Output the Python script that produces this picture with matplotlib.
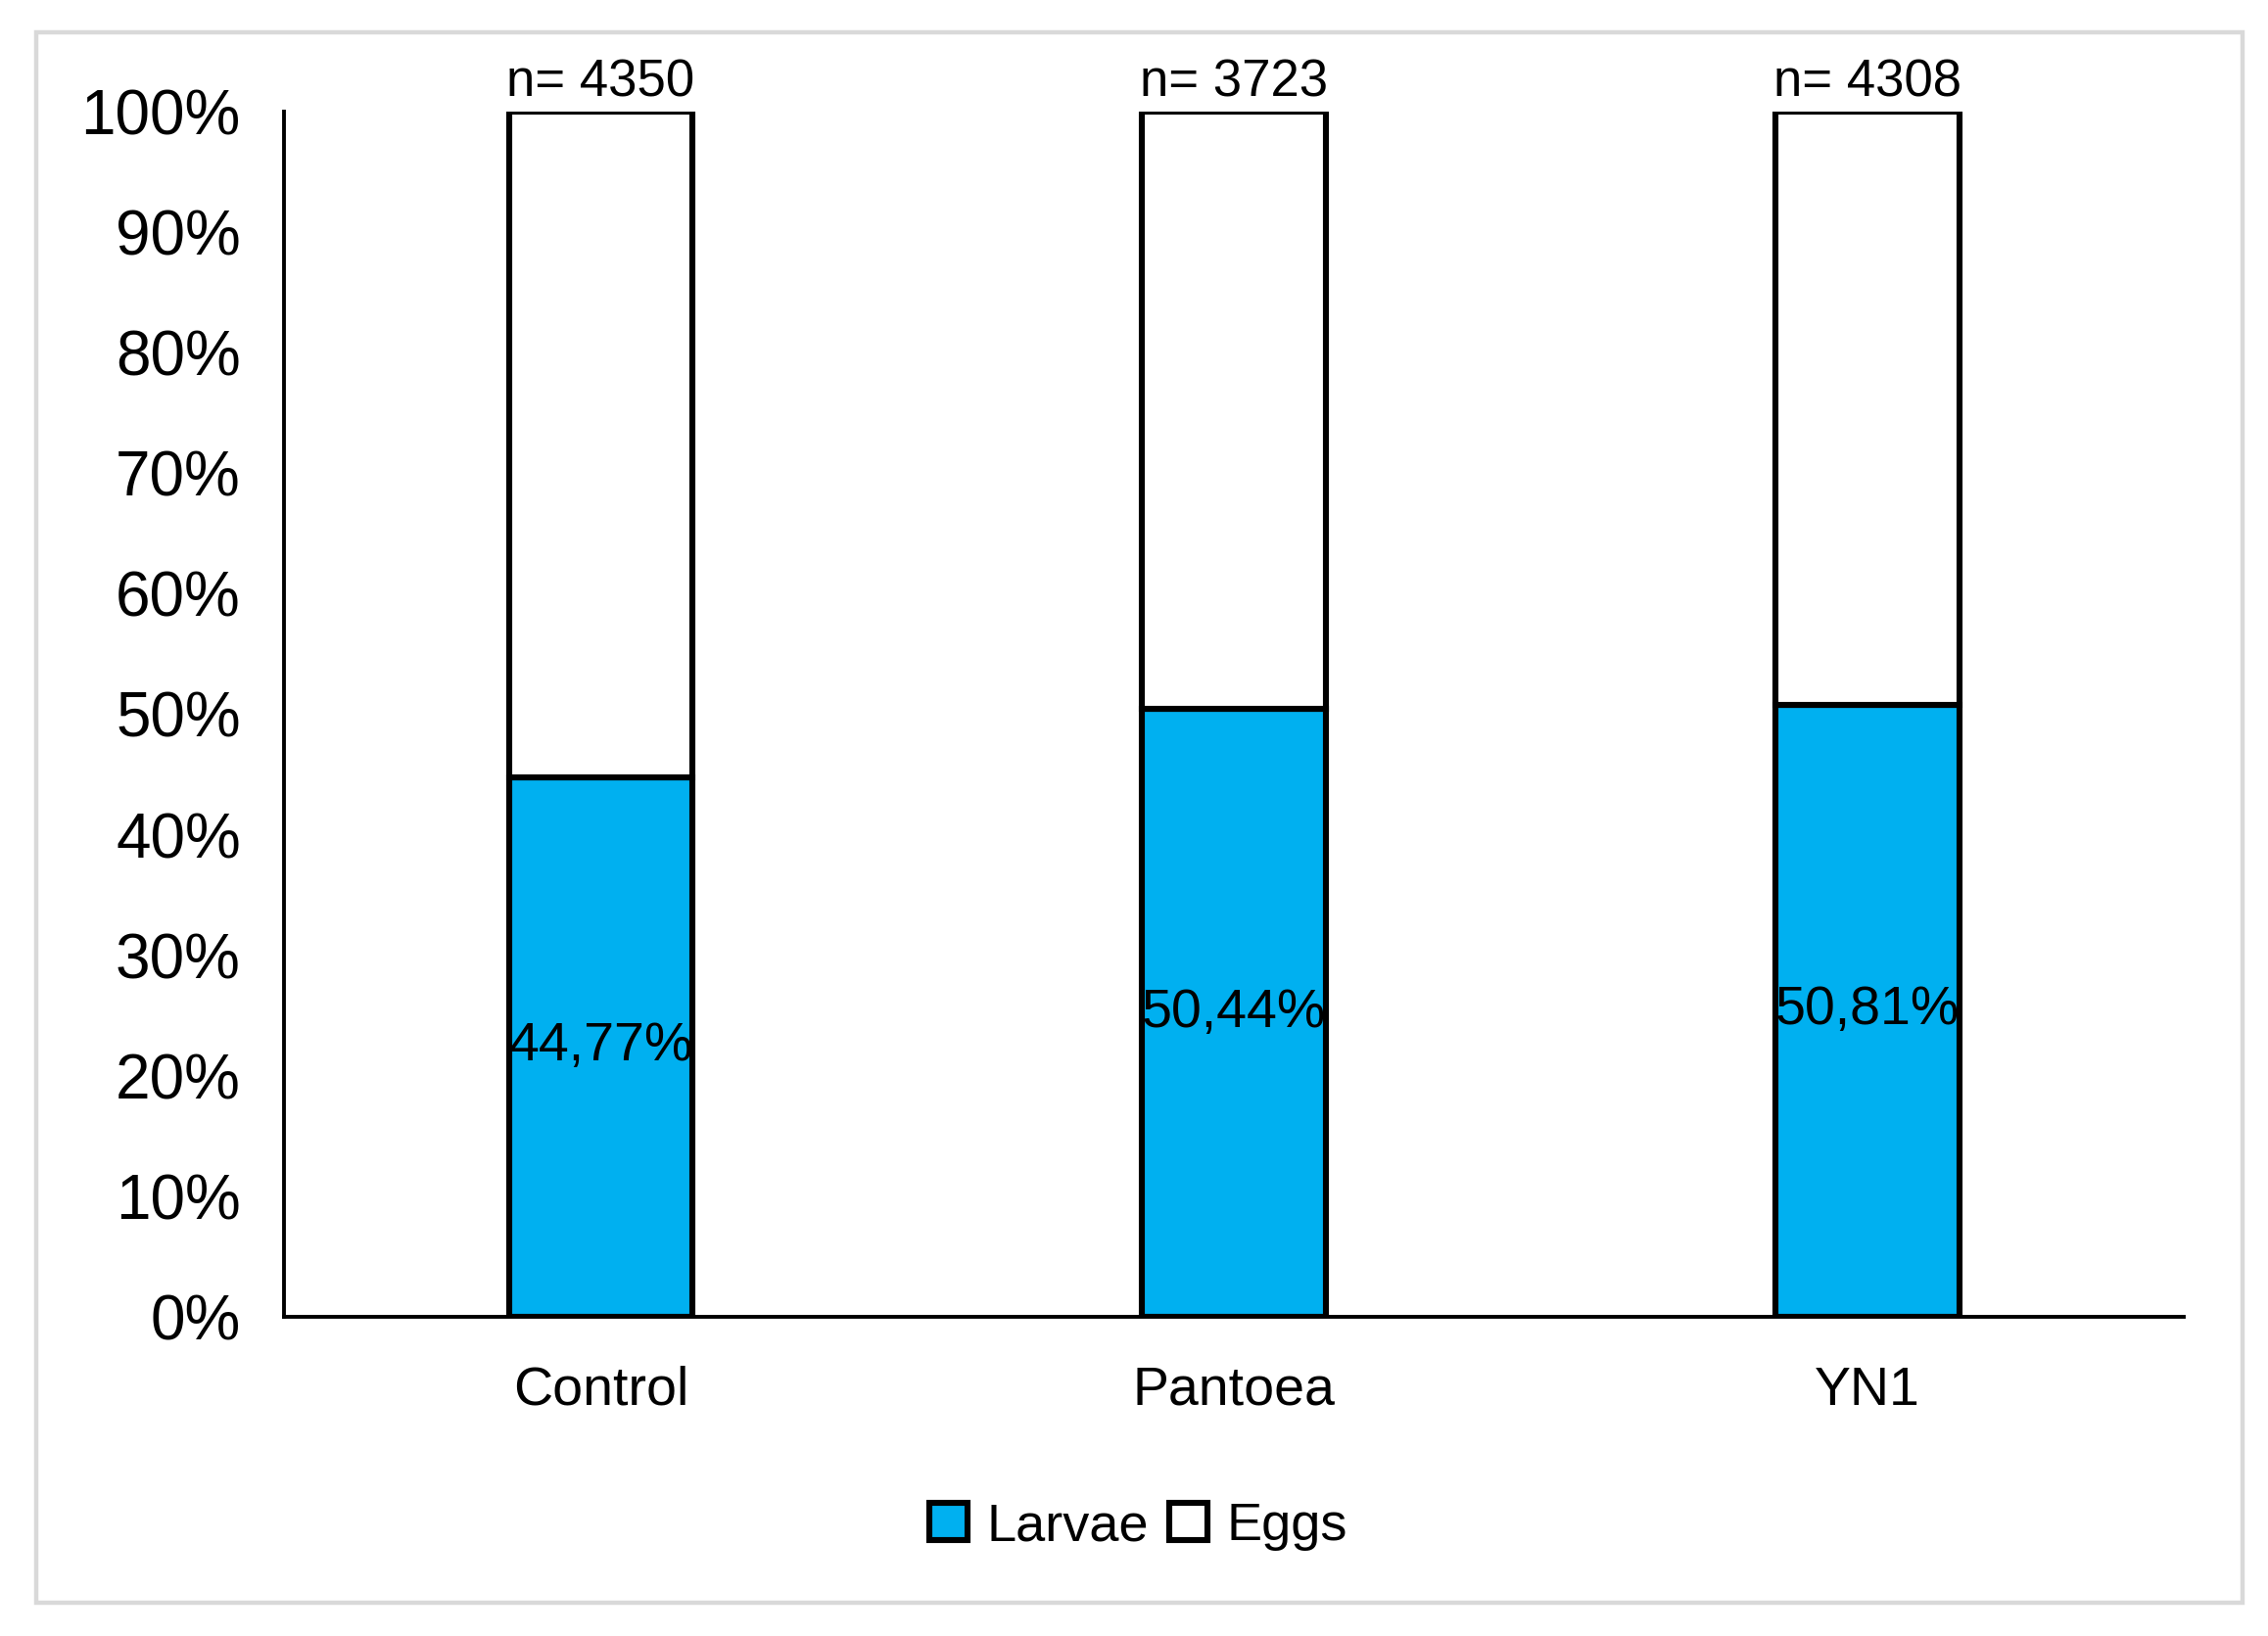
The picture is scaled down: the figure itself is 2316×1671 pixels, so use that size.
import matplotlib
matplotlib.use("Agg")
import matplotlib.pyplot as plt
from matplotlib.patches import Rectangle
from matplotlib.ticker import FuncFormatter

plt.rcParams["font.family"] = ["Liberation Sans", "DejaVu Sans"]

categories = ["Control", "Pantoea", "YN1"]
larvae_pct = [44.77, 50.44, 50.81]
eggs_pct = [100 - v for v in larvae_pct]
n_totals = [4350, 3723, 4308]

BLUE = "#00B0F0"


def main():
    fig = plt.figure(figsize=(11.58, 8.355), dpi=200)
    ax = fig.add_axes([0.1253, 0.1951, 0.8377, 0.7367])

    x = list(range(len(categories)))
    width = 0.29
    larvae = ax.bar(x, larvae_pct, width, color=BLUE, edgecolor="black",
                    linewidth=2.2, label="Larvae", zorder=3)
    eggs = ax.bar(x, eggs_pct, width, bottom=larvae_pct, color="white",
                  edgecolor="black", linewidth=2.2, label="Eggs", zorder=3)

    for xi, v in zip(x, larvae_pct):
        ax.text(xi, v / 2, f"{v:.2f}%".replace(".", ","), ha="center",
                va="center", fontsize=20, zorder=4)

    for xi, n in zip(x, n_totals):
        ax.annotate(f"n= {n}", (xi, 100), xytext=(0, 1.5),
                    textcoords="offset points", ha="center", va="bottom",
                    fontsize=19, annotation_clip=False)

    ax.set_xlim(-0.5, 2.5)
    ax.set_ylim(0, 100)
    ax.set_yticks(range(0, 101, 10))
    ax.yaxis.set_major_formatter(FuncFormatter(lambda v, p: f"{int(v)}%"))
    ax.set_xticks(x)
    ax.set_xticklabels(categories)
    ax.tick_params(axis="y", length=0, pad=16, labelsize=23)
    ax.tick_params(axis="x", length=0, pad=18, labelsize=20)

    for side in ["top", "right"]:
        ax.spines[side].set_visible(False)
    for side in ["left", "bottom"]:
        ax.spines[side].set_linewidth(1.4)
        ax.spines[side].set_color("black")

    fig.legend(handles=[larvae, eggs], labels=["Larvae", "Eggs"],
               loc="center", bbox_to_anchor=(0.502, 0.067), ncol=2,
               frameon=False, fontsize=19.5, handlelength=0.72,
               handleheight=0.72, handletextpad=0.35, columnspacing=0.4)

    # light gray frame around the chart area
    fig.patches.append(Rectangle((37 / 2316, 1 - 1637 / 1671),
                                 (2290 - 37) / 2316, (1637 - 33) / 1671,
                                 transform=fig.transFigure, fill=False,
                                 edgecolor="#D9D9D9", linewidth=1.6))

    fig.savefig("out.png", dpi=200, facecolor="white")
    plt.close(fig)


if __name__ == "__main__":
    main()
